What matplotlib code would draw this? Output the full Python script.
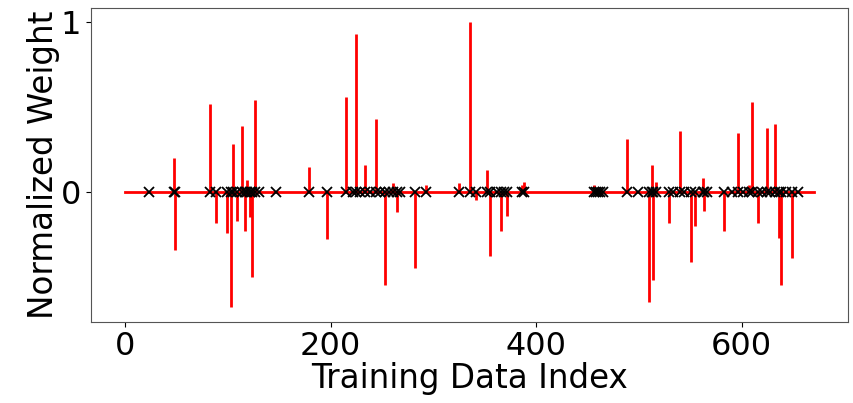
import numpy as np
import matplotlib
matplotlib.use('Agg')
import matplotlib.pyplot as plt

n_samples = 671

# nonzero normalized weights
stem_idx = [48, 49, 83, 89, 99, 103, 105, 109, 114, 117, 119, 122, 124, 127,
            179, 197, 215, 225, 234, 244, 253, 261, 265, 282, 293,
            325, 336, 342, 352, 355, 366, 372, 386, 388,
            456, 460, 488, 510, 513, 514, 517, 529, 540, 551, 555, 562, 563,
            583, 596, 607, 610, 616, 625, 632, 636, 638, 649]
stem_val = [0.20, -0.34, 0.52, -0.18, -0.24, -0.68, 0.28, -0.17, 0.39, -0.23, 0.07, -0.15, -0.50, 0.54,
            0.15, -0.28, 0.56, 0.93, 0.16, 0.43, -0.55, 0.05, -0.12, -0.45, 0.04,
            0.05, 1.00, -0.05, 0.13, -0.38, -0.23, -0.14, 0.04, 0.06,
            0.04, 0.02, 0.31, -0.65, 0.16, -0.52, 0.06, -0.18, 0.36, -0.41, -0.20, 0.08, -0.11,
            -0.23, 0.35, 0.04, 0.53, -0.18, 0.38, 0.40, -0.27, -0.55, -0.39]

# selected points with (near) zero weight
extra_idx = [23, 130, 147, 222, 229, 238, 248, 257, 268, 362, 369, 458, 462, 465,
             499, 533, 544, 566, 591, 601, 620, 628, 643, 655]

weights = np.zeros(n_samples)
weights[stem_idx] = stem_val

marker_idx = sorted(stem_idx + extra_idx)

fig = plt.figure(figsize=(8.54, 4.03), dpi=100)
ax = fig.add_axes([0.106, 0.202, 0.887, 0.778])

markerline, stemlines, baseline = ax.stem(np.arange(n_samples), weights,
                                          linefmt='r-', markerfmt=' ', basefmt='r-')
stemlines.set_linewidth(2)
baseline.set_linewidth(2)
ax.plot(marker_idx, np.zeros(len(marker_idx)), 'kx', ms=7.5, mew=1.3)

ax.set_xticks([0, 200, 400, 600])
ax.set_yticks([0, 1])
ax.tick_params(labelsize=23)
ax.set_xlabel('Training Data Index', fontsize=23.5, labelpad=0)
ax.set_ylabel('Normalized Weight', fontsize=23.5, labelpad=0)
for s in ax.spines.values():
    s.set_color('#555555')

fig.savefig('out.png', dpi=100)
